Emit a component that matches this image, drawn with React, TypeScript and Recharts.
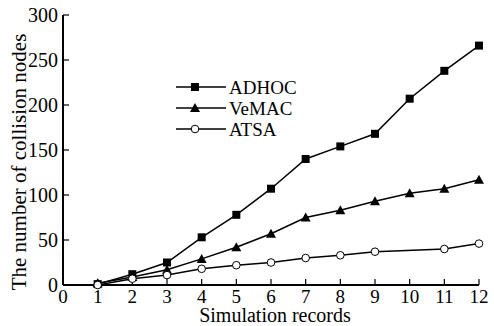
import { LineChart, Line, XAxis, YAxis, Legend } from 'recharts'

const records = [1, 2, 3, 4, 5, 6, 7, 8, 9, 10, 11, 12]
const adhoc = [1, 12, 25, 53, 78, 107, 140, 154, 168, 207, 238, 266]
const vemac = [2, 9, 17, 29, 42, 57, 75, 83, 93, 102, 107, 117]
// no marker is drawn at record 10 for ATSA
const atsa = [0, 7, 11, 18, 22, 25, 30, 33, 37, null, 40, 46]

const xTicks = [0, 1, 2, 3, 4, 5, 6, 7, 8, 9, 10, 11, 12]
const yTicks = [0, 50, 100, 150, 200, 250, 300]

const FONT = '"Liberation Serif", "Times New Roman", serif'

const data = records.map((r, i) => ({
  x: r,
  ADHOC: adhoc[i],
  VeMAC: vemac[i],
  ATSA: atsa[i],
}))

function Square(props: any) {
  const { cx, cy } = props
  if (cx == null || cy == null) return <g key={props.key} />
  return <rect key={props.key} x={cx - 4} y={cy - 4} width={8} height={8} fill="#000" />
}

function Triangle(props: any) {
  const { cx, cy } = props
  if (cx == null || cy == null) return <g key={props.key} />
  return (
    <path
      key={props.key}
      d={`M${cx},${cy - 5} L${cx + 5},${cy + 4} L${cx - 5},${cy + 4} Z`}
      fill="#000"
    />
  )
}

function Circle(props: any) {
  const { cx, cy } = props
  if (cx == null || cy == null) return <g key={props.key} />
  return <circle key={props.key} cx={cx} cy={cy} r={3.8} fill="#fff" stroke="#000" strokeWidth={1} />
}

const legendItems = [
  { name: 'ADHOC', Marker: Square },
  { name: 'VeMAC', Marker: Triangle },
  { name: 'ATSA', Marker: Circle },
]

function LegendBox() {
  return (
    <svg width={130} height={66} style={{ fontFamily: FONT, display: 'block' }}>
      {legendItems.map((it, i) => {
        const y = 10 + i * 21
        return (
          <g key={it.name}>
            <line x1={0} x2={50} y1={y} y2={y} stroke="#000" strokeWidth={1.5} />
            <it.Marker cx={19} cy={y} />
            <text x={53} y={y} dominantBaseline="central" fontSize={19} fill="#000">
              {it.name}
            </text>
          </g>
        )
      })}
    </svg>
  )
}

export default function App() {
  const tickStyle = { fontSize: 20, fill: '#000', fontFamily: FONT }
  const xTickStyle = { fontSize: 19, fill: '#000', fontFamily: FONT }
  return (
    <div style={{ position: 'absolute', left: 0, top: 0, background: '#fff' }}>
      <LineChart
        width={494}
        height={326}
        data={data}
        margin={{ top: 15, right: 15, bottom: 0, left: 8 }}
      >
        <XAxis
          dataKey="x"
          type="number"
          domain={[0, 12]}
          ticks={xTicks}
          interval={0}
          height={41}
          tickSize={-6}
          tickMargin={11}
          tick={xTickStyle}
          axisLine={{ stroke: '#000', strokeWidth: 2 }}
          tickLine={{ stroke: '#000', strokeWidth: 1.2 }}
          label={({ viewBox }: any) => (
            <text
              x={viewBox.x + viewBox.width / 2 + 4}
              y={viewBox.y + 37}
              textAnchor="middle"
              fontSize={20}
              fontFamily={FONT}
              fill="#000"
            >
              Simulation records
            </text>
          )}
        />
        <YAxis
          type="number"
          domain={[0, 300]}
          ticks={yTicks}
          interval={0}
          width={55}
          tickSize={-6}
          tickMargin={11}
          tick={tickStyle}
          axisLine={{ stroke: '#000', strokeWidth: 2 }}
          tickLine={{ stroke: '#000', strokeWidth: 1.2 }}
          label={({ viewBox }: any) => {
            const lx = viewBox.x + 11
            const ly = viewBox.y + viewBox.height / 2 + 12
            return (
              <text
                x={lx}
                y={ly}
                transform={`rotate(-90, ${lx}, ${ly})`}
                textAnchor="middle"
                dominantBaseline="central"
                fontSize={21}
                fontFamily={FONT}
                fill="#000"
              >
                The number of collision nodes
              </text>
            )
          }}
        />
        <Legend
          layout="horizontal"
          verticalAlign="middle"
          align="center"
          wrapperStyle={{ left: 176, top: 77, width: 130 }}
          content={() => <LegendBox />}
        />
        <Line
          dataKey="ADHOC"
          stroke="#000"
          strokeWidth={1.5}
          dot={Square}
          isAnimationActive={false}
        />
        <Line
          dataKey="VeMAC"
          stroke="#000"
          strokeWidth={1.5}
          dot={Triangle}
          isAnimationActive={false}
        />
        <Line
          dataKey="ATSA"
          stroke="#000"
          strokeWidth={1.5}
          dot={Circle}
          connectNulls
          isAnimationActive={false}
        />
      </LineChart>
    </div>
  )
}
